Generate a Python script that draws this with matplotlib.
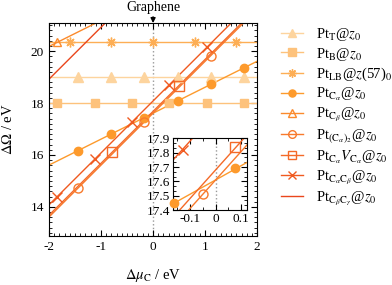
import matplotlib
matplotlib.use('Agg')
import matplotlib.pyplot as plt
from matplotlib.ticker import MultipleLocator

plt.rcParams['font.family'] = 'serif'
plt.rcParams['font.serif'] = ['Liberation Serif', 'DejaVu Serif']
plt.rcParams['mathtext.fontset'] = 'stix'
plt.rcParams['axes.unicode_minus'] = False
plt.rcParams['font.size'] = 9.5

# line ends at dmu = -2 and +2
line_x = [-2.0, 2.0]
y_T = [19.0, 19.0]
y_B = [18.0, 18.0]
y_LB = [20.35, 20.35]
y_Ca = [15.61, 19.61]
y_Cb = [20.18, 24.18]
y_Ca2 = [13.61, 21.61]
y_CaV = [13.68, 21.68]
y_CaCb = [14.08, 22.08]
y_CbCg = [18.92, 26.92]

# marker points
mx_T = [-1.45, -0.81, -0.17, 0.47, 1.11, 1.75]
my_T = [19.0, 19.0, 19.0, 19.0, 19.0, 19.0]
mx_B = [-1.84, -1.12, -0.41, 0.31, 1.03, 1.74]
my_B = [18.0, 18.0, 18.0, 18.0, 18.0, 18.0]
mx_LB = [-1.6, -0.8, 0.0, 0.8, 1.6]
my_LB = [20.35, 20.35, 20.35, 20.35, 20.35]
mx_Ca = [-1.45, -0.81, -0.17, 0.47, 1.11, 1.75]
my_Ca = [16.16, 16.80, 17.44, 18.08, 18.72, 19.36]
mx_Cb = [-1.84]
my_Cb = [20.34]
mx_Ca2 = [-1.45, -0.17, 1.11]
my_Ca2 = [14.71, 17.27, 19.83]
mx_CaV = [-0.79, 0.49]
my_CaV = [16.10, 18.66]
mx_CaCb = [-1.84, -1.12, -0.41, 0.31, 1.03]
my_CaCb = [14.40, 15.84, 17.26, 18.70, 20.14]

# marker points in the zoomed inset
ix_Ca = [-0.161, 0.076]
iy_Ca = [17.45, 17.69]
ix_Ca2 = [-0.05]
iy_Ca2 = [17.51]
ix_CaV = [0.076]
iy_CaV = [17.84]
ix_CaCb = [-0.128]
iy_CaCb = [17.82]

labels = ['Pt$_\\mathrm{T}$@$z_0$',
          'Pt$_\\mathrm{B}$@$z_0$',
          'Pt$_\\mathrm{LB}$@$z$(57)$_0$',
          'Pt$_{\\mathrm{C}_\\alpha}$@$z_0$',
          'Pt$_{\\mathrm{C}_\\beta}$@$z_0$',
          'Pt$_{(\\mathrm{C}_\\alpha)_2}$@$z_0$',
          'Pt$_{\\mathrm{C}_\\alpha}V_{\\mathrm{C}_\\alpha}$@$z_0$',
          'Pt$_{\\mathrm{C}_\\alpha\\mathrm{C}_\\beta}$@$z_0$',
          'Pt$_{\\mathrm{C}_\\beta\\mathrm{C}_\\gamma}$@$z_0$']
colors = ['#fdd49e', '#fdc27c', '#fdae55', '#fd9a2c', '#fb8a2c',
          '#f87a2c', '#f46a28', '#f05a20', '#ea461c']

fig = plt.figure(figsize=(3.92, 2.85), dpi=100)
ax = fig.add_axes([0.125, 0.172, 0.531, 0.747])

series = [
    (y_T, mx_T, my_T, dict(marker='^', ms=7.5, mfc=colors[0])),
    (y_B, mx_B, my_B, dict(marker='s', ms=6, mfc=colors[1])),
    (y_LB, mx_LB, my_LB, dict(marker=(8, 2, 0), ms=7, mew=1.0)),
    (y_Ca, mx_Ca, my_Ca, dict(marker='o', ms=6, mfc=colors[3])),
    (y_Cb, mx_Cb, my_Cb, dict(marker='^', ms=6, mfc='none', mew=1.0)),
    (y_Ca2, mx_Ca2, my_Ca2, dict(marker='o', ms=6.5, mfc='none', mew=1.0)),
    (y_CaV, mx_CaV, my_CaV, dict(marker='s', ms=6.5, mfc='none', mew=1.0)),
    (y_CaCb, mx_CaCb, my_CaCb, dict(marker='x', ms=7, mew=1.0)),
    (y_CbCg, [], [], dict(marker=None)),
]

handles = []
for i, (ly, px, py, mk) in enumerate(series):
    c = colors[i]
    ax.plot(line_x, ly, color=c, lw=1.0, zorder=2)
    if px:
        ax.plot(px, py, ls='none', color=c, mec=c, zorder=3, **mk)
    h, = ax.plot([], [], color=c, lw=1.0, mec=c, **mk)
    handles.append(h)

ax.axvline(0, color='#999999', ls=':', lw=1.0, zorder=1)
ax.set_xlim(-2, 2)
ax.set_ylim(12.88, 21.08)
ax.xaxis.set_major_locator(MultipleLocator(1))
ax.xaxis.set_minor_locator(MultipleLocator(0.1))
ax.yaxis.set_major_locator(MultipleLocator(2))
ax.yaxis.set_minor_locator(MultipleLocator(0.2))
ax.tick_params(which='both', direction='in', top=True, right=True)
ax.tick_params(which='major', length=4)
ax.tick_params(which='minor', length=2)
ax.set_xlabel('$\\Delta\\mu_\\mathrm{C}$ / eV', labelpad=10, fontsize=10.5)
ax.set_ylabel('$\\Delta\\Omega$ / eV', labelpad=11, fontsize=10.5)

ax.annotate('Graphene', xy=(0, 21.08), xytext=(0, 6.5),
            textcoords='offset points', ha='center', va='bottom',
            annotation_clip=False, fontsize=10,
            arrowprops=dict(arrowstyle='-|>', color='black', lw=1.0,
                            mutation_scale=7, shrinkA=0, shrinkB=0))

# inset
ins = fig.add_axes([0.4406, 0.263, 0.1895, 0.2516])
for i, (ly, px, py, mk) in enumerate(series):
    ins.plot(line_x, ly, color=colors[i], lw=1.0, zorder=2)
inset_pts = [(3, ix_Ca, iy_Ca), (5, ix_Ca2, iy_Ca2), (6, ix_CaV, iy_CaV),
             (7, ix_CaCb, iy_CaCb)]
for i, px, py in inset_pts:
    mk = series[i][3]
    ins.plot(px, py, ls='none', color=colors[i], mec=colors[i],
             zorder=3, clip_on=False, **mk)
ins.axvline(0, color='#999999', ls=':', lw=1.0, zorder=1)
ins.set_xlim(-0.167, 0.122)
ins.set_ylim(17.4, 17.9)
ins.xaxis.set_major_locator(MultipleLocator(0.1))
ins.xaxis.set_minor_locator(MultipleLocator(0.05))
ins.yaxis.set_major_locator(MultipleLocator(0.1))
ins.yaxis.set_minor_locator(MultipleLocator(0.1 / 3))
ins.tick_params(which='both', direction='in', top=True, right=True, pad=2)
ins.tick_params(which='major', length=4)
ins.tick_params(which='minor', length=2)
ins.set_yticks([17.4, 17.5, 17.6, 17.7, 17.8, 17.9])
ins.set_yticklabels(['17.4', '17.5', '17.6', '17.7', '17.8', '17.9'])
ins.set_xticks([-0.1, 0, 0.1])
ins.set_xticklabels(['-0.1', '0', '0.1'])

fig.legend(handles, labels, loc='upper left', bbox_to_anchor=(0.718, 0.91),
           frameon=False, handlelength=1.5, handletextpad=0.85,
           labelspacing=0.2, borderaxespad=0, borderpad=0, markerscale=0.85,
           fontsize=10.5)

fig.savefig('out.png', dpi=100)
